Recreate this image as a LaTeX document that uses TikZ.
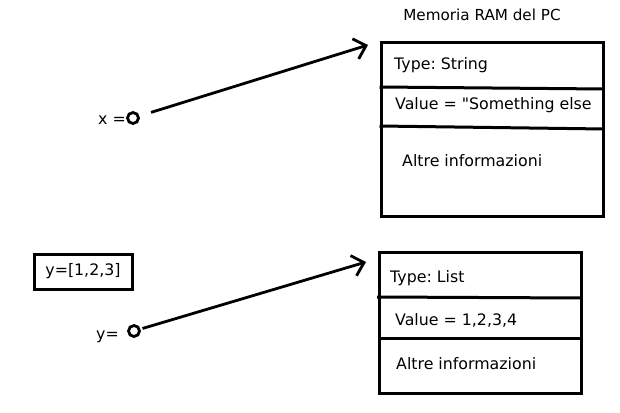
\documentclass[tikz,border=0pt]{standalone}
\usepackage{fontspec}
\setmainfont{DejaVu Sans}
\frenchspacing
\usetikzlibrary{arrows.meta, positioning}

\tikzset{
  membox/.style={draw, line width=3pt, minimum width=#1, inner sep=0pt},
  lbl/.style={anchor=west, inner sep=0pt, yshift=-1.5pt, font=\fontsize{15.8}{17}\selectfont},
  ptr/.style={line width=2.8pt, -{Straight Barb[length=11pt, width=21pt, line width=2.8pt]}},
  refdot/.style={circle, draw, line width=2.8pt, minimum size=11pt, inner sep=0pt}
}

\begin{document}
\begin{tikzpicture}[x=1pt, y=-1pt]
  \useasboundingbox (0,0) rectangle (620,412);

  % RAM column title
  \node[font=\fontsize{15.2}{17}\selectfont] (ramtitle) at (482,15) {Memoria RAM del PC};

  % first memory cell (the string)
  \node[membox=222pt, minimum height=173pt] (cellA) at (492,129.5) {};
  \draw[line width=3pt] (cellA.west |- 0,87) -- (cellA.east |- 0,89);
  \draw[line width=3pt] (cellA.west |- 0,126) -- (cellA.east |- 0,129);
  \node[lbl] (typeA) at (394,64) {Type: String};
  \node[lbl] (valA) at (395,104) {Value = \textquotedbl Something else};
  \node[lbl] (infoA) at (402,159) {Altre informazioni};

  % second memory cell (the list)
  \node[membox=202pt, minimum height=141pt] (cellB) at (480,322.5) {};
  \draw[line width=3pt] (377,297) -- (cellB.east |- 0,298);
  \draw[line width=3pt] (cellB.west |- 0,338) -- (cellB.east |- 0,338);
  \node[lbl] (typeB) at (390,277) {Type: List};
  \node[lbl] (valB) at (395,319) {Value = 1,2,3,4};
  \node[lbl] (infoB) at (396,362) {Altre informazioni};

  % variables
  \node[refdot] (xo) at (133,118) {};
  \node[lbl, anchor=east] (xname) at (126,119) {x =};
  \node[refdot] (yo) at (134,331) {};
  \node[lbl, anchor=east, yshift=-2pt] (yname) at (119,333) {y=};
  \node[draw, line width=3pt, minimum width=98pt, minimum height=35pt,
        font=\fontsize{15.8}{17}\selectfont] (yassign) at (83,271.5) {y=[1,2,3]};

  % references
  \coordinate (tipA) at (368,45);
  \coordinate (tipB) at (366,262);
  \draw[ptr, shorten <=12pt] (xo) -- (tipA);
  \draw[ptr, shorten <=2pt] (yo) -- (tipB);
\end{tikzpicture}
\end{document}
